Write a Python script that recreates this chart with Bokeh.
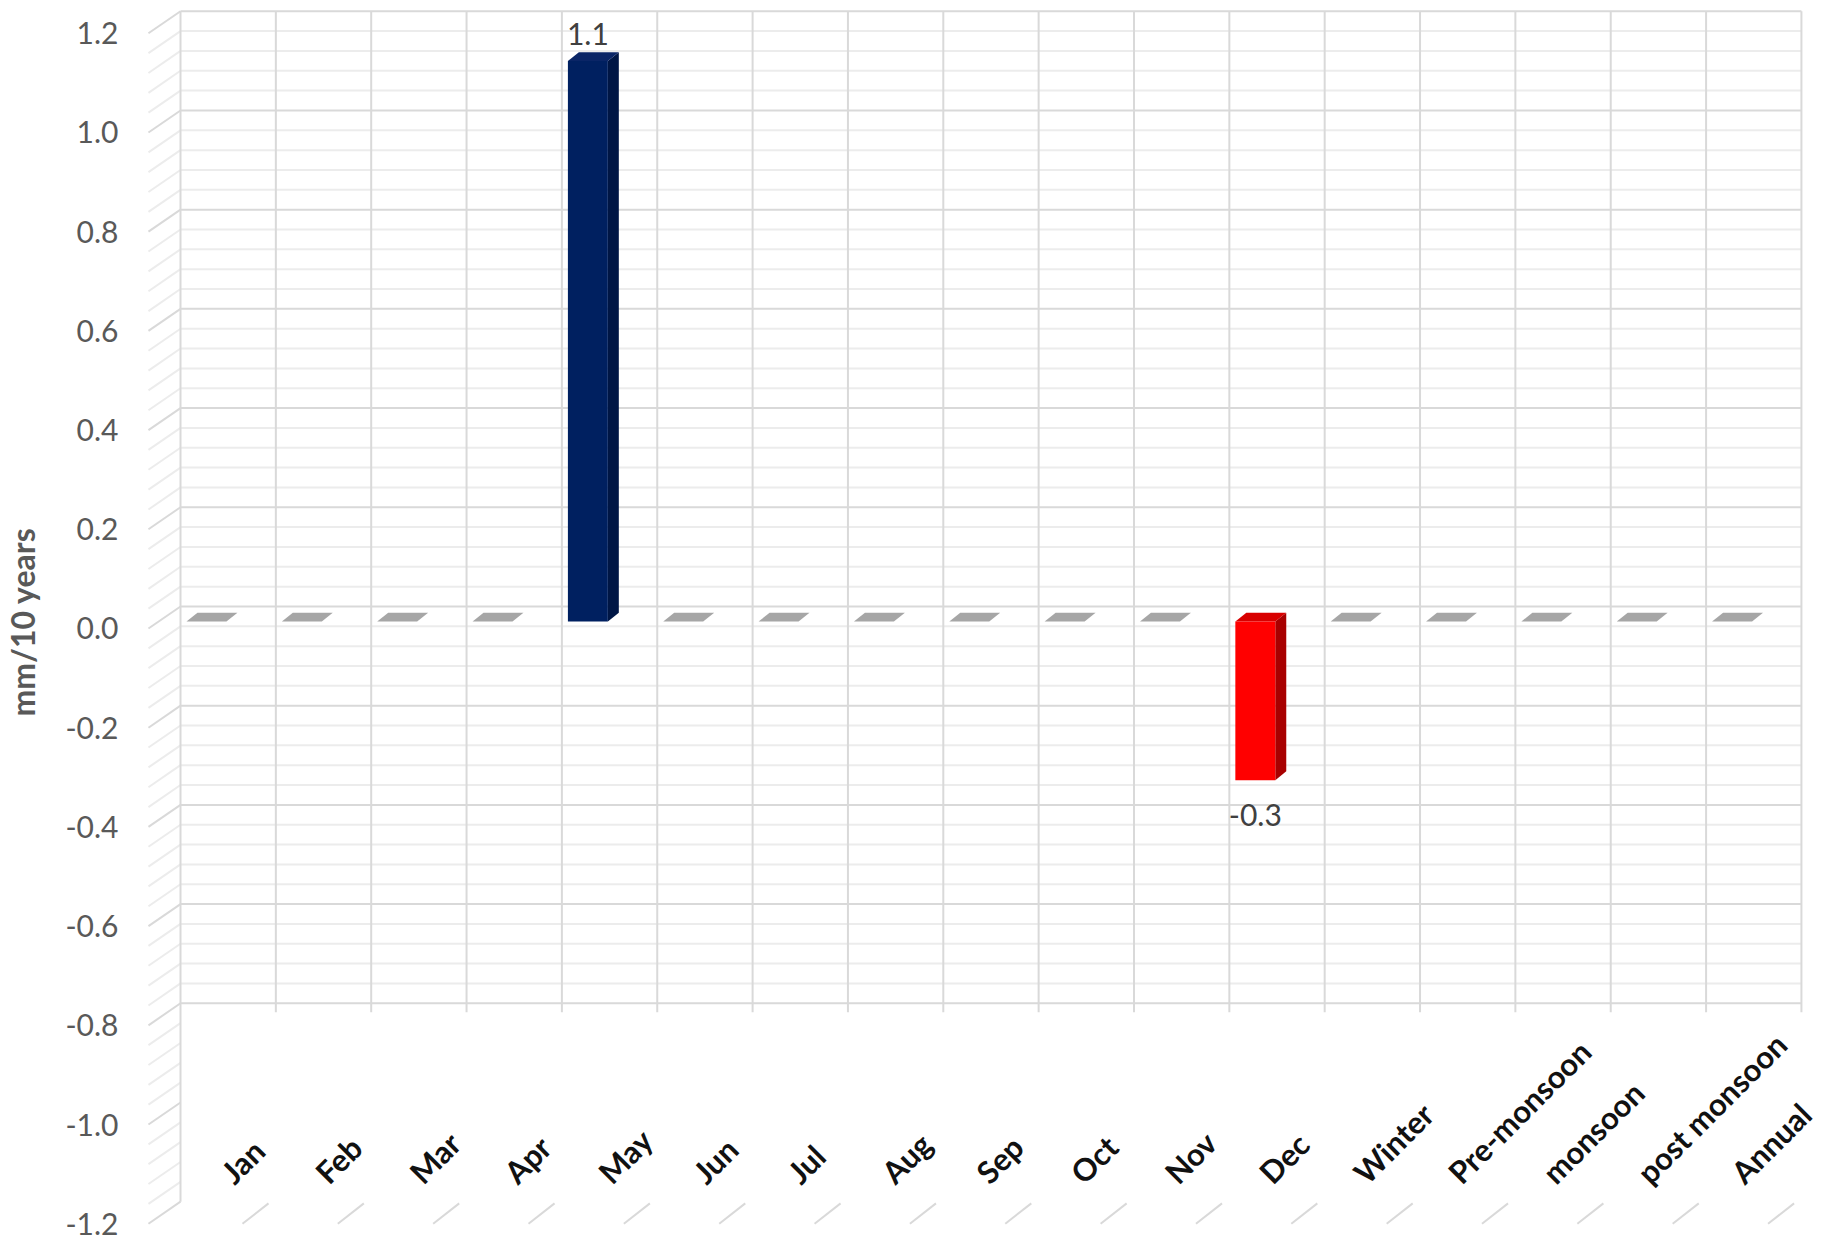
import numpy as np
from bokeh.plotting import figure
from bokeh.models import Range1d, FixedTicker, PrintfTickFormatter, ColumnDataSource
from bokeh.embed import file_html
from bokeh.resources import INLINE
from bokeh.core.properties import value

# ---------------- data ----------------
CATEGORIES = ["Jan", "Feb", "Mar", "Apr", "May", "Jun", "Jul", "Aug", "Sep",
              "Oct", "Nov", "Dec", "Winter", "Pre-monsoon", "monsoon",
              "post monsoon", "Annual"]
TREND = [0.0, 0.0, 0.0, 0.0, 1.13, 0.0, 0.0, 0.0, 0.0,
         0.0, 0.0, -0.32, 0.0, 0.0, 0.0, 0.0, 0.0]
Y_TICKS = [-1.2, -1.0, -0.8, -0.6, -0.4, -0.2, 0.0, 0.2, 0.4, 0.6, 0.8, 1.0, 1.2]
WALL_MIN, WALL_MAX = -0.8, 1.2      # extent of the back wall
SIDE_MIN = -1.2                      # extent of the side wall
MAJOR_STEP, MINOR_STEP = 0.2, 0.04
Y_TITLE = "mm/10 years"

# ---------------- 3-D style geometry (data units) ----------------
DYB = 0.0444          # back wall shift upward relative to front plane
DXF = -0.336          # front-left edge of side wall
BAR_L, BAR_R = 0.063, 0.482
DEPTH_X, DEPTH_Y = 0.115, 0.018
Z0 = 0.014
LBL_DX, LBL_STEP, LBL_Y = 0.48, 0.99, -1.107

POS_FRONT, POS_TOP, POS_SIDE = "#002060", "#0a2566", "#001645"
NEG_FRONT, NEG_TOP, NEG_SIDE = "#ff0000", "#d80000", "#a80000"
ZERO_TOP = "#a6a6a6"
GRID_MAJOR, GRID_MINOR = "#d9d9d9", "#ececec"

n = len(CATEGORIES)

p = figure(width=1822, height=1243,
           x_range=Range1d(-0.3671, 17.221), y_range=Range1d(-1.2399, 1.2661),
           output_backend="svg", toolbar_location=None, x_axis_location=None,
           min_border_left=145, min_border_right=0, min_border_top=0,
           min_border_bottom=0)
p.outline_line_color = None
p.grid.grid_line_color = None
p.background_fill_color = "white"

# y axis (front plane)
ya = p.yaxis[0]
ya.ticker = FixedTicker(ticks=Y_TICKS)
ya.formatter = PrintfTickFormatter(format="%.1f")
ya.axis_line_color = None
ya.major_tick_line_color = None
ya.minor_tick_line_color = None
ya.major_tick_out = 0
ya.major_tick_in = 0
ya.major_label_standoff = 27
ya.major_label_text_font = "Lato"
ya.major_label_text_font_size = "30px"
ya.major_label_text_color = "#595959"
ya.axis_label = Y_TITLE
ya.axis_label_text_font = "Lato"
ya.axis_label_text_font_style = "bold"
ya.axis_label_text_font_size = "32px"
ya.axis_label_text_color = "#595959"
ya.axis_label_standoff = 20

# ---------------- walls ----------------
all_vals = np.round(np.arange(SIDE_MIN, WALL_MAX + 1e-9, MINOR_STEP), 2)
is_major = np.isclose(np.round(all_vals / MAJOR_STEP) * MAJOR_STEP, all_vals)

# side wall diagonals
for major, col in ((False, GRID_MINOR), (True, GRID_MAJOR)):
    v = all_vals[is_major == major]
    p.segment(x0=np.zeros(len(v)), y0=v + DYB, x1=np.full(len(v), DXF), y1=v,
              line_color=col, line_width=2)

# back wall horizontals
wall_mask = all_vals >= WALL_MIN - 1e-9
for major, col in ((False, GRID_MINOR), (True, GRID_MAJOR)):
    v = all_vals[wall_mask & (is_major == major)]
    p.segment(x0=np.zeros(len(v)), y0=v + DYB, x1=np.full(len(v), n), y1=v + DYB,
              line_color=col, line_width=2)

# back wall verticals
xs = np.arange(1, n + 1)
p.segment(x0=xs, y0=np.full(n, WALL_MIN + DYB - 0.018), x1=xs,
          y1=np.full(n, WALL_MAX + DYB), line_color=GRID_MAJOR, line_width=2)
p.segment(x0=[0], y0=[SIDE_MIN + DYB], x1=[0], y1=[WALL_MAX + DYB],
          line_color=GRID_MAJOR, line_width=2)

# floor ticks
idx = np.arange(n)
p.segment(x0=idx + 0.65, y0=np.full(n, SIDE_MIN), x1=idx + 0.923,
          y1=np.full(n, SIDE_MIN + 0.041), line_color=GRID_MAJOR, line_width=2)

# ---------------- bars ----------------
side_xs, side_ys, side_c = [], [], []
top_xs, top_ys, top_c = [], [], []
fl, fr, fb, ft, fc = [], [], [], [], []
lx, ly, lt, loff = [], [], [], []
for i, v in enumerate(TREND):
    l, r = i + BAR_L, i + BAR_R
    yb, yt = Z0 + min(v, 0), Z0 + max(v, 0)
    if v > 0:
        cf, ctop, cs = POS_FRONT, POS_TOP, POS_SIDE
    elif v < 0:
        cf, ctop, cs = NEG_FRONT, NEG_TOP, NEG_SIDE
    else:
        cf, ctop, cs = None, ZERO_TOP, None
    top_xs.append([l, r, r + DEPTH_X, l + DEPTH_X])
    top_ys.append([yt, yt, yt + DEPTH_Y, yt + DEPTH_Y])
    top_c.append(ctop)
    if v != 0:
        side_xs.append([r, r, r + DEPTH_X, r + DEPTH_X])
        side_ys.append([yb, yt, yt + DEPTH_Y, yb + DEPTH_Y])
        side_c.append(cs)
        fl.append(l); fr.append(r); fb.append(yb); ft.append(yt); fc.append(cf)
        lx.append((l + r) / 2)
        ly.append(yt if v > 0 else yb)
        lt.append(f"{v:.1f}")
        loff.append(-27 if v > 0 else 35)

p.patches(xs="xs", ys="ys", fill_color="c", line_color=None,
          source=ColumnDataSource(dict(xs=side_xs, ys=side_ys, c=side_c)))
p.patches(xs="xs", ys="ys", fill_color="c", line_color=None,
          source=ColumnDataSource(dict(xs=top_xs, ys=top_ys, c=top_c)))
p.quad(left="l", right="r", bottom="b", top="t", fill_color="c", line_color=None,
       source=ColumnDataSource(dict(l=fl, r=fr, b=fb, t=ft, c=fc)))

# data labels
p.text(x="x", y="y", text="t", y_offset="o",
       source=ColumnDataSource(dict(x=lx, y=ly, t=lt, o=loff)),
       text_align="center", text_baseline="middle",
       text_font=value("Lato"), text_font_size="30px", text_color="#404040")

# category labels
p.text(x=idx * LBL_STEP + LBL_DX, y=np.full(n, LBL_Y), text=CATEGORIES,
       angle=np.pi / 4, text_align="left", text_baseline="alphabetic",
       text_font=value("Lato"), text_font_style="bold", text_font_size="31px",
       text_color="#111111")

open("out.html", "w").write(file_html(p, INLINE))
